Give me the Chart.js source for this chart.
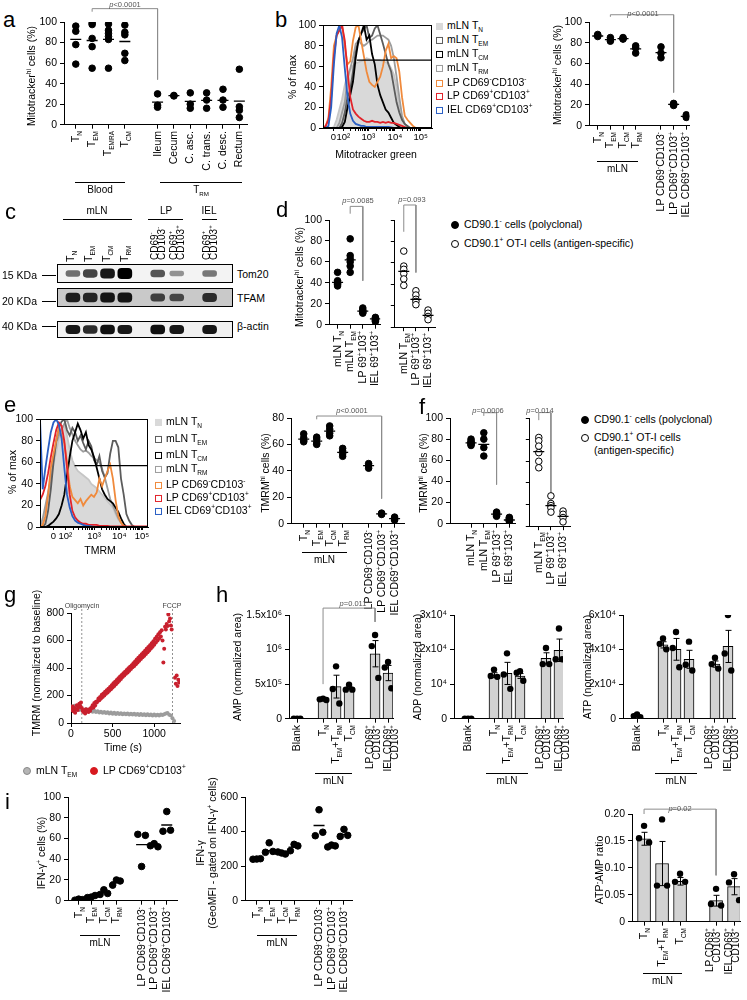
<!DOCTYPE html>
<html lang="en">
<head>
<meta charset="utf-8">
<title>Mitochondrial mass and potential of intestinal TRM cells</title>
<script src="https://cdn.jsdelivr.net/npm/chart.js@4.4.1/dist/chart.umd.min.js"></script>
<style>
	body { margin: 0; background: #fff; }
	#fig { position: relative; width: 747px; height: 1000px; overflow: hidden; background: #fff;
		font-family: "Liberation Sans", Arial, Helvetica, sans-serif; color: #000; }
	#fig canvas { position: absolute; }
	.t { position: absolute; white-space: nowrap; font-size: 10px; line-height: 1.15; }
	.v { position: absolute; width: 0; height: 0; transform: rotate(-90deg); }
	.v > span { position: absolute; top: 0; white-space: nowrap; font-size: 10.5px; line-height: 1.1; }
	.v > span.tight { font-size: 10px; line-height: 0.72; }
	.rule { position: absolute; height: 0; border-top: 1px solid #000; }
	.letter { position: absolute; font-size: 22px; line-height: 1; }
	.pv { font-size: 7.5px; color: #555; }
	.small { font-size: 7px; color: #444; }
	.leg { font-size: 10.5px; }
	.sq { display: inline-block; width: 7px; height: 7px; border: 1.5px solid; box-sizing: border-box; margin-right: 4px; vertical-align: -1px; }
	.dot { display: inline-block; width: 8px; height: 8px; border-radius: 50%; border: 1px solid #000; box-sizing: border-box; margin-right: 5px; vertical-align: -1px; }
	sub, sup { font-size: 62%; line-height: 0; }
</style>
</head>
<body>
<div id="fig"></div>
<script>
// ---------- data ----------

// a: Mitotracker-hi cells, blood subsets vs intestinal TRM
const aLabels = ['T<sub>N</sub>', 'T<sub>EM</sub>', 'T<sub>EMRA</sub>', 'T<sub>CM</sub>', 'Ileum', 'Cecum', 'C. asc.', 'C. trans.', 'C. desc.', 'Rectum'];
const aValues = [
	[96, 91, 78, 59],
	[99, 97.5, 84, 76, 55],
	[98, 92, 89, 86, 83, 55],
	[97, 90, 87.5, 69.5, 62.5],
	[30, 19, 17],
	[28.5, 28],
	[31, 20, 16],
	[31, 24, 16],
	[34.5, 24, 17],
	[54, 17.5, 14, 7]
];
const aMeans = [83, 82, 83, 81, 22, 28.3, 22.7, 23.7, 23.7, 23];

// histograms (b, e): x in display units of the biexponential axis
const histX = [0, 2.5, 5, 7.5, 10, 12.5, 15, 17.5, 20, 22.5, 25, 27.5, 30, 32.5, 35, 37.5, 40, 42.5, 45, 47.5, 50, 52.5, 55, 57.5, 60, 62.5, 65, 67.5, 70, 72.5, 75, 77.5, 80, 82.5, 85, 87.5, 90, 92.5, 95, 97.5, 100];
const histTickLabels = ['0', '10²', '10³', '10⁴', '10⁵'];
const histNames = ['mLN T<sub>N</sub>', 'mLN T<sub>EM</sub>', 'mLN T<sub>CM</sub>', 'mLN T<sub>RM</sub>', 'LP CD69<sup>-</sup>CD103<sup>-</sup>', 'LP CD69<sup>+</sup>CD103<sup>+</sup>', 'IEL CD69<sup>+</sup>CD103<sup>+</sup>'];

const bTN = [0, 0, 0, 0, 1, 8, 18, 28, 42, 52, 57, 61, 63, 64, 65, 66, 68, 67, 66, 66, 66, 66, 65, 64, 63, 58, 52, 40, 20, 8, 4, 1, 0, 0, 0, 0, 0, 0, 0, 0, 0];
const bTEM = [0, 0, 0, 0, 0, 0, 0, 5, 15, 30, 37, 55, 74, 85, 92, 96, 100, 88, 90, 97, 100, 91, 82, 72, 62, 55, 40, 25, 15, 8, 4, 2, 0, 0, 0, 0, 0, 0, 0, 0, 0];
const bTCM = [0, 0, 0, 0, 0, 0, 0, 1, 6, 20, 32, 45, 68, 85, 92, 100, 86, 90, 72, 62, 42, 32, 25, 18, 15, 10, 5, 3, 1, 0, 0, 0, 0, 0, 0, 0, 0, 0, 0, 0, 0];
const bTRM = [0, 0, 0, 0, 0, 0, 5, 15, 25, 48, 58, 68, 82, 85, 82, 80, 82, 85, 86, 88, 90, 90, 90, 88, 86, 80, 68, 50, 30, 12, 4, 1, 0, 0, 0, 0, 0, 0, 0, 0, 0];
const bLPneg = [0, 2, 10, 40, 80, 90, 95, 100, 80, 62, 65, 85, 98, 100, 85, 70, 55, 45, 42, 40, 45, 50, 60, 75, 82, 68, 70, 68, 55, 30, 12, 8, 5, 2, 0, 0, 0, 0, 0, 0, 0];
const bLPpos = [0, 2, 8, 30, 70, 90, 95, 100, 85, 55, 30, 18, 14, 11, 9, 7, 6, 6, 7, 6, 6, 5, 6, 5, 6, 5, 5, 4, 3, 2, 1, 0, 0, 0, 0, 0, 0, 0, 0, 0, 0];
const bIEL = [0, 0, 2, 20, 62, 92, 100, 88, 58, 30, 14, 7, 4, 3, 2, 2, 1, 1, 1, 1, 1, 1, 1, 1, 1, 0.5, 0, 0, 0, 0, 0, 0, 0, 0, 0, 0, 0, 0, 0, 0, 0];
const bGate = [31, 100, 66];

// b (right): Mitotracker-hi cells per mLN / gut subset
const bLabels = ['T<sub>N</sub>', 'T<sub>EM</sub>', 'T<sub>CM</sub>', 'T<sub>RM</sub>', 'LP CD69<sup>-</sup>CD103<sup>-</sup>', 'LP CD69<sup>+</sup>CD103<sup>+</sup>', 'IEL CD69<sup>+</sup>CD103<sup>+</sup>'];
const bValues = [[88, 87, 86], [85, 83, 81.5], [85, 84, 83.5], [77, 75, 70], [76, 70, 65.5], [21.5, 20.5, 19.5], [10.5, 9, 8]];
const bMeans = [86.5, 83, 84, 74, 70.5, 20.5, 9];

// c: western blot, relative band intensity per lane
const blotLanes = ['T_N', 'T_EM', 'T_CM', 'T_RM', 'LP CD69-CD103-', 'LP CD69+CD103+', 'IEL CD69+CD103+'];
const tom20Bands = [0.35, 0.6, 0.85, 1.0, 0.5, 0.15, 0.3];
const tfamBands = [0.8, 0.75, 0.85, 0.85, 0.55, 0.5, 0.7];
const actinBands = [0.85, 0.75, 0.9, 0.85, 0.9, 0.85, 0.85];

// d: Mitotracker-hi, polyclonal vs OT-I
const dLabelsPoly = ['mLN T<sub>N</sub>', 'mLN T<sub>EM</sub>', 'LP 69<sup>+</sup>103<sup>+</sup>', 'IEL 69<sup>+</sup>103<sup>+</sup>'];
const dLabelsOT = ['mLN T<sub>EM</sub>', 'LP 69<sup>+</sup>103<sup>+</sup>', 'IEL 69<sup>+</sup>103<sup>+</sup>'];
const dPoly = [[50, 42, 40.5, 39.5, 38.5, 37], [82, 66, 63, 60, 56, 50], [16, 14, 13, 12, 11], [7, 6, 5, 4, 3]];
const dPolyMeans = [40.5, 62, 13, 5.5];
const dOT = [[71, 57, 54, 50, 45, 39], [34, 30, 26, 24, 21], [16, 13, 10, 7]];
const dOTMeans = [52, 26, 11];

// e: TMRM histograms
const eTN = [0, 5, 15, 30, 45, 58, 70, 82, 92, 95, 85, 72, 62, 56, 52, 50, 48, 46, 44, 40, 38, 36, 33, 30, 27, 24, 21, 18, 12, 7, 4, 2, 0, 0, 0, 0, 0, 0, 0, 0, 0];
const eTEM = [0, 0, 3, 15, 35, 60, 80, 92, 98, 100, 90, 85, 92, 88, 80, 85, 78, 72, 80, 75, 62, 58, 66, 52, 46, 50, 68, 80, 80, 74, 45, 30, 12, 6, 2, 0, 0, 0, 0, 0, 0];
const eTCM = [0, 0, 0, 1, 3, 5, 8, 12, 20, 30, 48, 65, 80, 88, 96, 90, 82, 88, 76, 72, 65, 55, 45, 35, 30, 26, 24, 22, 18, 14, 8, 3, 0, 0, 0, 0, 0, 0, 0, 0, 0];
const eTRM = [0, 8, 20, 32, 45, 62, 78, 85, 90, 96, 100, 92, 86, 80, 76, 72, 70, 71, 69, 66, 64, 62, 60, 54, 46, 36, 26, 20, 14, 8, 4, 1, 0, 0, 0, 0, 0, 0, 0, 0, 0];
const eLPneg = [0, 2, 10, 30, 55, 68, 80, 92, 85, 78, 60, 38, 28, 25, 22, 26, 20, 24, 27, 30, 28, 32, 45, 38, 45, 52, 58, 45, 25, 10, 4, 1, 0, 0, 0, 0, 0, 0, 0, 0, 0];
const eLPpos = [25, 30, 38, 50, 65, 78, 90, 97, 94, 80, 55, 30, 15, 9, 6, 4, 3, 3, 2, 2, 2, 2, 1, 1, 1, 1, 0.5, 0.5, 0.5, 0.5, 0.5, 0.5, 0.5, 0.5, 0.5, 0.5, 0.5, 0.5, 0.5, 0.5, 0.5];
const eIEL = [100, 35, 55, 72, 88, 97, 100, 95, 82, 55, 30, 18, 10, 6, 4, 3, 2, 1, 1, 0.5, 0, 0, 0, 0, 0, 0, 0, 0, 0, 0, 0, 0, 0, 0, 0, 0, 0, 0, 0, 0, 0];
const eGate = [32, 100, 57];

// e (right): TMRM-hi cells
const eValues = [[68, 65, 63, 62], [65.5, 64, 61, 60], [74, 71.5, 68.5, 66.5], [57, 55, 53, 51], [45.5, 44, 42], [8, 7.5, 7], [5, 3.6, 2.7]];
const eMeans = [64, 62.5, 70, 54, 44, 7.5, 3.8];

// f: TMRM-hi, polyclonal vs OT-I
const fPoly = [[80, 78, 77, 76, 75, 74], [86, 80, 72, 64], [11, 10, 9, 8, 7], [6, 5, 4, 3, 2]];
const fPolyMeans = [76.5, 75, 9, 3.5];
const fOT = [[82, 79, 74, 68, 60, 54], [28, 21, 19, 17, 13], [14, 11, 8, 4]];
const fOTMeans = [69, 19, 9];

// g: TMRM time course (s, normalized to baseline)
const gGreyTime = [0, 20, 40, 60, 80, 100, 120, 140, 160, 180, 200, 220, 240, 260, 280, 300, 320, 340, 360, 380, 400, 420, 440, 460, 480, 500, 520, 540, 560, 580, 600, 620, 640, 660, 680, 700, 720, 740, 760, 780, 800, 820, 840, 860, 880, 900, 920, 940, 960, 980, 1000, 1020, 1040, 1060, 1080, 1100, 1120, 1140, 1160, 1180, 1200, 1220, 1240];
const gGreyValue = [120, 105, 125, 100, 115, 95, 110, 95, 88, 100, 90, 85, 95, 82, 90, 80, 86, 76, 82, 74, 80, 72, 78, 70, 76, 68, 74, 66, 72, 65, 71, 64, 70, 63, 69, 62, 68, 61, 67, 60, 66, 59, 65, 58, 64, 57, 63, 56, 62, 55, 61, 55, 60, 54, 62, 58, 64, 70, 72, 60, 55, 35, 15];
const gRedTime = [0, 10, 20, 30, 40, 50, 60, 70, 80, 90, 100, 110, 120, 130, 140, 150, 160, 170, 180, 190, 200, 210, 220, 230, 240,
	250, 260, 270, 280, 290, 300, 310, 320, 330, 340, 350, 360, 370, 380, 390, 400, 410, 420, 430, 440, 450, 460, 470, 480, 490,
	500, 510, 520, 530, 540, 550, 560, 570, 580, 590, 600, 610, 620, 630, 640, 650, 660, 670, 680, 690, 700, 710, 720, 730, 740,
	750, 760, 770, 780, 790, 800, 810, 820, 830, 840, 850, 860, 870, 880, 890, 900, 910, 920, 930, 940, 950, 960, 970, 980, 990,
	1000, 1010, 1020, 1030, 1040, 1050, 1060, 1070, 1080, 1090, 1100, 1110, 1120, 1130, 1140, 1150, 1160, 1170, 1180, 1190, 1200, 1210,
	1250, 1260, 1270, 1280, 1290, 1300];
const gRedValue = [105, 95, 120, 85, 110, 75, 100, 130, 95, 115, 140, 125, 150, 110, 90, 80, 95, 70, 100, 85, 95, 80, 100, 90, 110,
	110, 130, 112, 145, 128, 155, 150, 160, 178, 165, 190, 178, 205, 190, 215, 200, 228, 212, 238, 222, 250, 235, 262, 245, 275,
	258, 290, 270, 300, 282, 312, 295, 325, 308, 338, 320, 350, 335, 362, 345, 372, 358, 385, 368, 398, 380, 410, 392, 420, 405,
	435, 415, 448, 428, 462, 440, 475, 452, 488, 465, 500, 478, 512, 490, 525, 502, 540, 515, 552, 528, 565, 542, 580, 555, 595,
	570, 612, 585, 628, 600, 645, 615, 660, 630, 675, 600, 440, 540, 700, 680, 720, 705, 790, 740, 760, 710, 680,
	330, 285, 345, 270, 315, 295];
const gOligomycin = 130;
const gFccp = 1220;

// h: metabolites (normalized area), bar = mean, whisker = SEM
const hLabels = ['Blank', 'T<sub>N</sub>', 'T<sub>EM</sub>+T<sub>RM</sub>', 'T<sub>CM</sub>', 'LP CD69<sup>+</sup><br>CD103<sup>+</sup>', 'IEL CD69<sup>+</sup><br>CD103<sup>+</sup>'];
const ampMean = [0, 280000, 464000, 440000, 940000, 660000];
const ampSem = [0, 10000, 165000, 20000, 190000, 110000];
const ampPoints = [[0, 0, 0], [290000, 280000, 270000], [757000, 430000, 220000], [490000, 420000, 420000], [1210000, 1050000, 590000], [820000, 740000, 440000]];
const ampTickLabels = ['0', '5x10⁵', '10⁶', '1.5x10⁶'];
const adpMean = [0, 12600, 13100, 12360, 17470, 19790];
const adpSem = [0, 700, 3200, 700, 1600, 3250];
const adpPoints = [[0, 0, 0], [14200, 12360, 12100], [18900, 12800, 8640], [13750, 13290, 10960], [20440, 15790, 15790], [26100, 17190, 17190]];
const adpTickLabels = ['0', '10⁴', '2x10⁴', '3x10⁴'];
const atpMean = [1600, 42730, 40130, 34370, 31590, 41810];
const atpSem = [400, 1800, 6300, 5200, 1800, 9300];
const atpPoints = [[2400, 1500, 900], [46450, 43300, 40130], [50170, 40880, 29730], [44590, 31210, 27870], [35300, 31590, 28990], [60000, 37720, 27870]];
const atpTickLabels = ['0', '2x10⁴', '4x10⁴', '6x10⁴'];

// i: IFN-γ production and ATP:AMP ratio
const iLabels = ['T<sub>N</sub>', 'T<sub>EM</sub>', 'T<sub>CM</sub>', 'T<sub>RM</sub>', 'LP CD69<sup>-</sup>CD103<sup>-</sup>', 'LP CD69<sup>+</sup>CD103<sup>+</sup>', 'IEL CD69<sup>+</sup>CD103<sup>+</sup>'];
const ifnPct = [[0.5, 1, 1.5], [3, 5, 3.5], [6, 7, 10.5], [15, 19, 20], [64, 63, 33], [53, 52, 55], [67, 68, 86]];
const ifnPctMeans = [1, 3.5, 7.5, 18, 54, 53.5, 73];
const ifnMfi = [[240, 243, 241], [280, 285, 335], [282, 270, 276], [289, 317, 326], [376, 396, 526], [311, 317, 322], [372, 378, 413]];
const ifnMfiMeans = [242, 290, 276, 310, 435, 318, 384];
const ratioLabels = ['T<sub>N</sub>', 'T<sub>EM</sub>+T<sub>RM</sub>', 'T<sub>CM</sub>', 'LP CD69<sup>+</sup><br>CD103<sup>+</sup>', 'IEL CD69<sup>+</sup><br>CD103<sup>+</sup>'];
const ratioMean = [0.154, 0.108, 0.075, 0.039, 0.065];
const ratioSem = [0.012, 0.041, 0.007, 0.01, 0.015];
const ratioPoints = [[0.178, 0.155, 0.147], [0.19, 0.067, 0.067], [0.089, 0.074, 0.074], [0.061, 0.033, 0.03], [0.088, 0.073, 0.04]];

// ---------- chart defaults ----------
Chart.defaults.font.family = '"Liberation Sans", Arial, sans-serif';
Chart.defaults.font.size = 10.5;
Chart.defaults.color = '#000';
Chart.defaults.animation = false;
Chart.defaults.responsive = false;
Chart.defaults.events = [];
Chart.defaults.plugins.legend.display = false;
Chart.defaults.plugins.tooltip.enabled = false;

const fig = document.getElementById('fig');

// box around the plot area (histograms, blot rows)
const framePlugin = {
	id: 'frame',
	beforeDatasetsDraw(chart, args, opts) {
		if (!opts.fill) return;
		const {ctx, chartArea: a} = chart;
		ctx.save();
		ctx.fillStyle = opts.fill;
		ctx.fillRect(a.left, a.top, a.width, a.height);
		ctx.restore();
	},
	afterDraw(chart) {
		const {ctx, chartArea: a} = chart;
		ctx.save();
		ctx.strokeStyle = '#000';
		ctx.lineWidth = 1;
		ctx.strokeRect(Math.round(a.left) + 0.5, Math.round(a.top) + 0.5, Math.round(a.width) - 1, Math.round(a.height) - 1);
		ctx.restore();
	}
};

// SEM whiskers for bar datasets that carry an `errors` array
const errorBarPlugin = {
	id: 'errorBars',
	afterDatasetDraw(chart, args) {
		const ds = chart.data.datasets[args.index];
		if (!ds.errors) return;
		const {ctx, scales: {x, y}} = chart;
		ctx.save();
		ctx.strokeStyle = '#000';
		ctx.lineWidth = 1;
		ds.data.forEach((d, i) => {
			const e = ds.errors[i];
			if (!e) return;
			const px = Math.round(x.getPixelForValue(d.x)) + 0.5;
			const top = y.getPixelForValue(d.y + e);
			const bot = y.getPixelForValue(d.y - e);
			ctx.beginPath();
			ctx.moveTo(px, top); ctx.lineTo(px, bot);
			ctx.moveTo(px - 3, top); ctx.lineTo(px + 3, top);
			ctx.moveTo(px - 3, bot); ctx.lineTo(px + 3, bot);
			ctx.stroke();
		});
		ctx.restore();
	}
};

// ---------- page helpers ----------
function el(cls, html, css) {
	const d = document.createElement('div');
	d.className = cls;
	d.innerHTML = html;
	Object.assign(d.style, css);
	fig.appendChild(d);
	return d;
}

function label(html, x, y, align = 'left', cls = '') {
	const tx = align === 'center' ? '-50%' : align === 'right' ? '-100%' : '0';
	return el('t ' + cls, html, {left: x + 'px', top: y + 'px', transform: `translate(${tx}, -50%)`});
}

// rotated text; 'end' = text ends at (x,y) and runs downward, 'start' = starts there and runs up
function vlabel(html, x, y, anchor = 'end', cls = '') {
	const w = el('v', '', {left: x + 'px', top: y + 'px'});
	const s = document.createElement('span');
	s.className = cls || (html.includes('<br>') ? 'tight' : '');
	s.innerHTML = html;
	if (anchor === 'end') Object.assign(s.style, {right: '0', textAlign: 'right', transform: 'translateY(-50%)'});
	else if (anchor === 'start') Object.assign(s.style, {left: '0', transform: 'translateY(-50%)'});
	else Object.assign(s.style, {left: '0', textAlign: 'center', transform: 'translate(-50%, -50%)'});
	w.appendChild(s);
}

function letter(ch, x, y) {
	el('letter', ch, {left: x + 'px', top: y + 'px'});
}

function rule(x0, x1, y) {
	el('rule', '', {left: x0 + 'px', top: y + 'px', width: (x1 - x0) + 'px'});
}

function group(x0, x1, y, html) {
	rule(x0, x1, y);
	label(html, (x0 + x1) / 2, y + 8, 'center');
}

function pval(html, x, y) {
	label('<i>p</i>' + html, x, y, 'center', 'pv');
}

// canvas whose plot area lands exactly on `area` = [x0, y0, x1, y1] in page pixels
function addChart(area, pad, config) {
	const [x0, y0, x1, y1] = area;
	const canvas = document.createElement('canvas');
	canvas.width = x1 - x0 + pad.l + pad.r;
	canvas.height = y1 - y0 + pad.t + pad.b;
	const ox = x0 - pad.l, oy = y0 - pad.t;
	canvas.style.left = ox + 'px';
	canvas.style.top = oy + 'px';
	fig.appendChild(canvas);
	const sc = config.options.scales;
	sc.x.afterFit = s => { s.height = pad.b; };
	sc.y.afterFit = s => { s.width = pad.l; };
	config.options.layout = {padding: {top: pad.t, right: pad.r, left: 0, bottom: 0}};
	const chart = new Chart(canvas, config);
	chart.ox = ox;
	chart.oy = oy;
	return chart;
}

function xAxis(min, max, ticks, labelFn, fontSize) {
	const t = {display: !!labelFn, autoSkip: false, maxRotation: 0, padding: 1};
	if (labelFn) t.callback = labelFn;
	if (fontSize) t.font = {size: fontSize};
	return {
		type: 'linear', min, max, offset: false,
		afterBuildTicks: s => { s.ticks = ticks.map(v => ({value: v})); },
		ticks: t,
		grid: {drawOnChartArea: false, offset: false, color: '#000', tickLength: 4},
		border: {color: '#000', width: 1}
	};
}

function yAxis(min, max, step, labels) {
	const ticks = {stepSize: step, padding: 3};
	if (labels === false) ticks.display = false;
	else if (typeof labels === 'function') ticks.callback = labels;
	else if (labels) ticks.callback = (v, i) => labels[i];
	return {min, max, ticks, grid: {drawOnChartArea: false, color: '#000', tickLength: 4}, border: {color: '#000', width: 1}};
}

function bracketSet(s1, s2, top, left, right) {
	return {
		type: 'line',
		data: [{x: s1, y: left}, {x: s1, y: top}, {x: s2, y: top}, {x: s2, y: right}],
		borderColor: '#8c8c8c', borderWidth: 1, pointRadius: 0, clip: false, order: 5
	};
}

// rotated category labels under the x axis; `shift` nudges crowded two-line labels
function xLabels(chart, slots, labels, shift) {
	const s = chart.scales.x;
	slots.forEach((v, i) => {
		const dx = shift ? shift[i] : 0;
		vlabel(labels[i], chart.ox + s.getPixelForValue(v) + dx, chart.oy + s.top + 6, 'end');
	});
}

// scatter of individual mice with mean dash
function dotPlot(area, o) {
	const jitter = o.jitter || [0];
	const pts = [];
	o.values.forEach((vals, i) => vals.forEach((v, k) => pts.push({x: o.slots[i] + (jitter[k] || 0), y: v})));
	const datasets = [
		{data: o.means.map((m, i) => ({x: o.slots[i], y: m})), pointStyle: 'line', pointRadius: 5.5,
			pointBorderColor: '#000', pointBorderWidth: 1.3, order: 0},
		{data: pts, pointRadius: o.r || 3.3, pointBackgroundColor: o.open ? '#fff' : '#000',
			pointBorderColor: '#000', pointBorderWidth: 1, order: 1}
	];
	(o.brackets || []).forEach(b => datasets.push(bracketSet(...b)));
	const chart = addChart(area, o.pad, {
		type: 'scatter',
		data: {datasets},
		options: {scales: {x: xAxis(o.xmin, o.xmax, o.slots), y: yAxis(0, o.ymax, o.ystep, o.yLabels)}}
	});
	if (o.labels) xLabels(chart, o.slots, o.labels);
	return chart;
}

// bar = mean, whisker = SEM, dots = mice
const barJitter = [0, -0.28, 0.28];
function barPlot(area, o) {
	const pts = [];
	o.points.forEach((vals, i) => vals.forEach((v, k) => pts.push({x: o.slots[i] + barJitter[k] * o.spread, y: v})));
	const datasets = [
		{type: 'scatter', data: pts, pointRadius: 3.2, pointBackgroundColor: '#000', pointBorderWidth: 0, order: 0},
		{type: 'bar', data: o.means.map((m, i) => ({x: o.slots[i], y: m})), errors: o.sem,
			backgroundColor: '#d2d2d2', borderColor: '#000', borderWidth: 1, barThickness: o.barW, order: 2}
	];
	(o.brackets || []).forEach(b => datasets.push(bracketSet(...b)));
	const chart = addChart(area, o.pad, {
		type: 'bar',
		data: {datasets},
		options: {scales: {x: xAxis(o.xmin, o.xmax, o.slots), y: yAxis(0, o.ymax, o.ystep, o.yLabels)}},
		plugins: [errorBarPlugin]
	});
	xLabels(chart, o.slots, o.labels, o.labelShift);
	return chart;
}

// flow histogram overlay
const histStyles = [
	{color: '#c6c6c6', fill: '#d9d9d9', order: 10},
	{color: '#5c5c5c', order: 5},
	{color: '#000000', order: 4},
	{color: '#9d9d9d', order: 6},
	{color: '#f08a3c', order: 3},
	{color: '#e2232b', order: 2},
	{color: '#2a5fc4', order: 1}
];
function histPlot(area, pad, series, tickPos, gate) {
	const datasets = series.map((vals, k) => ({
		data: histX.map((x, i) => ({x, y: vals[i]})),
		borderColor: histStyles[k].color,
		backgroundColor: histStyles[k].fill || 'transparent',
		fill: histStyles[k].fill ? 'origin' : false,
		borderWidth: 1.8, pointRadius: 0, order: histStyles[k].order
	}));
	datasets.push({data: [{x: gate[0], y: gate[2]}, {x: gate[1], y: gate[2]}], borderColor: '#000', borderWidth: 1.2, pointRadius: 0, clip: false, order: 0});
	// minor ticks inside each decade
	const minor = [];
	for (let d = 1; d < tickPos.length - 1; d++) {
		for (let m = 2; m < 10; m++) minor.push(tickPos[d] + (tickPos[d + 1] - tickPos[d]) * Math.log10(m));
	}
	const allTicks = [...tickPos, ...minor].sort((p, q) => p - q);
	const x = xAxis(0, 100, allTicks, v => {
		const i = tickPos.indexOf(v);
		return i >= 0 ? histTickLabels[i] : '';
	}, 9.5);
	x.grid.tickLength = 3;
	return addChart(area, pad, {
		type: 'line',
		data: {datasets},
		options: {
			scales: {x, y: yAxis(0, 100, 10, v => (v % 20 === 0 ? v : ''))},
			plugins: {frame: {}}
		},
		plugins: [framePlugin]
	});
}

function histLegend(x, rows) {
	rows.forEach((y, k) => {
		const st = histStyles[k];
		const box = st.fill
			? `<span class="sq" style="background:${st.fill};border-color:${st.fill}"></span>`
			: `<span class="sq" style="border-color:${st.color}"></span>`;
		label(box + histNames[k], x, y, 'left', 'leg');
	});
}

// western blot row: band darkness/thickness from intensity
const blotSlots = [0, 1, 2, 3, 4.9, 6, 7.9];
function blotRow(area, bands, bg) {
	const data = bands.map((v, i) => {
		const h = 0.1 + 0.17 * v;
		return {x: blotSlots[i], y: [0.5 - h, 0.5 + h]};
	});
	const colors = bands.map(v => `rgba(0,0,0,${(0.3 + 0.7 * v).toFixed(2)})`);
	return addChart(area, {l: 0, r: 0, t: 0, b: 0}, {
		type: 'bar',
		data: {datasets: [{data, backgroundColor: colors, barThickness: 14, borderRadius: 4, borderSkipped: false}]},
		options: {
			scales: {
				x: {type: 'linear', min: -0.92, max: 9.25, offset: false, display: false},
				y: {min: 0, max: 1, display: false}
			},
			plugins: {frame: {fill: bg}}
		},
		plugins: [framePlugin]
	});
}

// ---------- a ----------
letter('a', 3, 9);
dotPlot([64, 22, 250, 129], {
	pad: {l: 34, r: 4, t: 20, b: 5}, xmin: -0.72, xmax: 10.48,
	slots: [0, 1, 2, 3, 5, 6, 7, 8, 9, 10], labels: aLabels,
	values: aValues, means: aMeans, ymax: 100, ystep: 20,
	brackets: [[1, 5, 113, 110, 44]]
});
pval('&lt;0.0001', 125, 5);
vlabel('Mitotracker<sup>hi</sup> cells (%)', 32, 76, 'center');
group(75, 125, 182, 'Blood');
group(160, 242, 182, 'T<sub>RM</sub>');

// ---------- b ----------
letter('b', 275, 9);
histPlot([323, 24, 432, 128], {l: 28, r: 4, t: 8, b: 20},
	[bTN, bTEM, bTCM, bTRM, bLPneg, bLPpos, bIEL], [9.5, 18.7, 41.6, 66, 89.6], bGate);
vlabel('% of max', 293, 77, 'center');
label('Mitotracker green', 376, 154, 'center', 'leg');
histLegend(436, [24.6, 38.6, 52.6, 66.6, 81.6, 95, 109]);

dotPlot([589, 22, 692, 130], {
	pad: {l: 32, r: 4, t: 20, b: 5}, xmin: -0.69, xmax: 7.23,
	slots: [0, 1, 2, 3, 5, 6, 7], labels: bLabels,
	values: bValues, means: bMeans, ymax: 100, ystep: 20,
	brackets: [[1, 6, 107, 105, 32]]
});
pval('&lt;0.0001', 643, 14);
vlabel('Mitotracker<sup>hi</sup> cells (%)', 558, 75, 'center');
group(597, 638, 161, 'mLN');

// ---------- c ----------
letter('c', 5, 201);
rule(63, 132, 219); label('mLN', 97, 211, 'center');
rule(148, 183, 219); label('LP', 166, 211, 'center');
rule(202, 217, 219); label('IEL', 209, 211, 'center');
['T<sub>N</sub>', 'T<sub>EM</sub>', 'T<sub>CM</sub>', 'T<sub>RM</sub>'].forEach((t, i) => vlabel(t, [71, 89, 107, 125][i], 262, 'start'));
vlabel('CD69<sup>-</sup><br>CD103<sup>-</sup>', 158, 260, 'start');
vlabel('CD69<sup>+</sup><br>CD103<sup>+</sup>', 177, 260, 'start');
vlabel('CD69<sup>+</sup><br>CD103<sup>+</sup>', 210, 260, 'start');
blotRow([57, 264, 233, 283], tom20Bands, '#f3f3f3');
blotRow([57, 288, 233, 307], tfamBands, '#c9c9c9');
blotRow([57, 321, 233, 338], actinBands, '#f1f1f1');
[['15 KDa', 275], ['20 KDa', 301], ['40 KDa', 326]].forEach(([t, y]) => {
	label(t, 2, y, 'left', 'leg');
	rule(42, 56, y);
});
label('Tom20', 237, 274, 'left', 'leg');
label('TFAM', 237, 298, 'left', 'leg');
label('β-actin', 237, 326, 'left', 'leg');

// ---------- d ----------
letter('d', 276, 199);
dotPlot([329, 220, 383, 329], {
	pad: {l: 32, r: 4, t: 20, b: 5}, xmin: -0.68, xmax: 3.38,
	slots: [0, 1, 2, 3], labels: dLabelsPoly,
	values: dPoly, means: dPolyMeans, ymax: 100, ystep: 20,
	brackets: [[1, 2, 113, 106, 42]]
});
dotPlot([393, 220, 438, 329], {
	pad: {l: 5, r: 4, t: 20, b: 5}, xmin: -0.74, xmax: 2.59, open: true,
	slots: [0, 1, 2], labels: dLabelsOT, yLabels: false,
	values: dOT, means: dOTMeans, ymax: 100, ystep: 20,
	brackets: [[0, 1, 114, 89, 51]]
});
pval('=0.0085', 358, 201);
pval('=0.093', 412, 200);
vlabel('Mitotracker<sup>hi</sup> cells (%)', 300, 277, 'center');
label('<span class="dot" style="background:#000"></span>CD90.1<sup>-</sup> cells (polyclonal)', 451, 224, 'left', 'leg');
label('<span class="dot" style="background:#fff"></span>CD90.1<sup>+</sup> OT-I cells (antigen-specific)', 451, 243, 'left', 'leg');

// ---------- e ----------
letter('e', 4, 394);
histPlot([40, 418, 148, 527], {l: 30, r: 4, t: 8, b: 20},
	[eTN, eTEM, eTCM, eTRM, eLPneg, eLPpos, eIEL], [12.3, 23.4, 50, 73.5, 94.5], eGate);
vlabel('% of max', 13, 472, 'center');
label('TMRM', 100, 550, 'center', 'leg');
histLegend(155, [421, 437.5, 453.5, 467.5, 483.5, 496.5, 510]);

dotPlot([291, 418, 407, 528], {
	pad: {l: 28, r: 4, t: 20, b: 5}, xmin: -0.98, xmax: 7.74,
	slots: [0, 1, 2, 3, 5, 6, 7], labels: iLabels,
	values: eValues, means: eMeans, ymax: 80, ystep: 20,
	brackets: [[1, 6, 81.5, 79, 19]]
});
pval('&lt;0.0001', 352, 411);
vlabel('TMRM<sup>hi</sup> cells (%)', 266, 473, 'center');
group(302, 347, 552, 'mLN');

// ---------- f ----------
letter('f', 419, 396);
dotPlot([450, 418, 518, 528], {
	pad: {l: 32, r: 4, t: 20, b: 5}, xmin: -1.65, xmax: 3.46,
	slots: [0, 1, 2, 3], labels: dLabelsPoly,
	values: fPoly, means: fPolyMeans, ymax: 100, ystep: 20,
	brackets: [[1, 2, 105, 102, 37]]
});
dotPlot([528, 418, 573, 528], {
	pad: {l: 5, r: 4, t: 20, b: 5}, xmin: -0.74, xmax: 2.59, open: true,
	slots: [0, 1, 2], labels: dLabelsOT, yLabels: false,
	values: fOT, means: fOTMeans, ymax: 100, ystep: 20,
	brackets: [[0, 1, 105, 98, 28]]
});
pval('=0.0006', 488, 411);
pval('=0.014', 540, 411);
vlabel('TMRM<sup>hi</sup> cells (%)', 424, 473, 'center');
label('<span class="dot" style="background:#000"></span>CD90.1<sup>-</sup> cells (polyclonal)', 581, 419, 'left', 'leg');
label('<span class="dot" style="background:#fff"></span>CD90.1<sup>+</sup> OT-I cells', 581, 437, 'left', 'leg');
label('(antigen-specific)', 594, 450, 'left', 'leg');

// ---------- g ----------
letter('g', 4, 584);
const pairs = (t, v) => t.map((x, i) => ({x, y: v[i]}));
const vline = t => ({
	type: 'line', data: [{x: t, y: 0}, {x: t, y: 850}], borderColor: '#777', borderWidth: 0.8,
	borderDash: [2, 2], pointRadius: 0, clip: false, order: 5
});
addChart([71, 613, 180, 723], {l: 32, r: 4, t: 12, b: 18}, {
	type: 'scatter',
	data: {datasets: [
		{data: pairs(gRedTime, gRedValue), pointRadius: 2, pointBackgroundColor: '#c8202e', pointBorderWidth: 0, order: 1},
		{data: pairs(gGreyTime, gGreyValue), pointRadius: 2, pointBackgroundColor: '#9c9c9c', pointBorderWidth: 0, order: 2},
		vline(gOligomycin), vline(gFccp)
	]},
	options: {scales: {
		x: xAxis(0, 1310, [0, 500, 1000], v => v),
		y: yAxis(0, 800, 200)
	}}
});
label('Oligomycin', 82, 606, 'center', 'small');
label('FCCP', 172, 606, 'center', 'small');
label('Time (s)', 123, 747, 'center', 'leg');
vlabel('TMRM (normalized to baseline)', 37, 663, 'center');
label('<span class="dot" style="background:#b5b5b5;border-color:#888"></span>mLN T<sub>EM</sub>', 23, 770, 'left', 'leg');
label('<span class="dot" style="background:#d7191f;border-color:#d7191f"></span>LP CD69<sup>+</sup>CD103<sup>+</sup>', 90, 770, 'left', 'leg');

// ---------- h ----------
letter('h', 216, 584);
const hSlots = [0, 2, 3, 4, 6, 7];
const hShift = [0, 0, 0, 0, -2.5, 3];
barPlot([289, 615, 393, 723], {
	pad: {l: 46, r: 4, t: 14, b: 5}, xmin: -0.62, xmax: 7.38, slots: hSlots, labels: hLabels, labelShift: hShift,
	means: ampMean, sem: ampSem, points: ampPoints, spread: 0.9, barW: 10,
	ymax: 1500000, ystep: 500000, yLabels: ampTickLabels,
	brackets: [[2, 6, 1600000, 500000, 1400000]]
});
pval('=0.011', 353, 604);
vlabel('AMP (normalized area)', 238, 667, 'center');
group(315, 352, 773, 'mLN');

barPlot([454, 615, 563, 723], {
	pad: {l: 40, r: 4, t: 14, b: 5}, xmin: -1.08, xmax: 7.31, slots: hSlots, labels: hLabels, labelShift: hShift,
	means: adpMean, sem: adpSem, points: adpPoints, spread: 0.9, barW: 10,
	ymax: 30000, ystep: 10000, yLabels: adpTickLabels
});
vlabel('ADP (normalized area)', 418, 667, 'center');
group(486, 528, 773, 'mLN');

barPlot([623, 615, 735, 723], {
	pad: {l: 40, r: 4, t: 14, b: 5}, xmin: -1.08, xmax: 7.54, slots: hSlots, labels: hLabels, labelShift: hShift,
	means: atpMean, sem: atpSem, points: atpPoints, spread: 0.9, barW: 10,
	ymax: 60000, ystep: 20000, yLabels: atpTickLabels
});
vlabel('ATP (normalized area)', 588, 667, 'center');
group(655, 697, 773, 'mLN');

// ---------- i ----------
letter('i', 5, 791);
dotPlot([68, 797, 180, 905], {
	pad: {l: 32, r: 4, t: 10, b: 5}, xmin: -0.85, xmax: 7.83,
	slots: [0, 1, 2, 3, 5, 6, 7], labels: iLabels, jitter: [-0.3, 0.3, 0],
	values: ifnPct, means: ifnPctMeans, ymax: 100, ystep: 20
});
vlabel('IFN-γ<sup>+</sup> cells (%)', 42, 853, 'center');
group(80, 120, 935, 'mLN');

dotPlot([245, 797, 355, 905], {
	pad: {l: 32, r: 4, t: 10, b: 5}, xmin: -0.94, xmax: 7.66,
	slots: [0, 1, 2, 3, 5, 6, 7], labels: iLabels, jitter: [-0.3, 0.3, 0],
	values: ifnMfi, means: ifnMfiMeans, ymax: 600, ystep: 200
});
vlabel('IFN-γ<br>(GeoMFI - gated on IFN-γ<sup>+</sup> cells)', 207, 853, 'center', 'plain');
group(257, 297, 935, 'mLN');

barPlot([632, 814, 740, 926], {
	pad: {l: 34, r: 4, t: 14, b: 5}, xmin: -0.67, xmax: 5.33, slots: [0, 1, 2, 4, 5],
	labels: ratioLabels, labelShift: [0, 0, 0, -3.5, -2],
	means: ratioMean, sem: ratioSem, points: ratioPoints, spread: 1, barW: 13,
	ymax: 0.2, ystep: 0.05, yLabels: v => (v === 0 ? '0' : v.toFixed(2)),
	brackets: [[0, 4, 0.209, 0.2, 0.086]]
});
pval('=0.02', 680, 809);
vlabel('ATP:AMP ratio', 600, 870, 'center');
group(643, 682, 973, 'mLN');
</script>
</body>
</html>
